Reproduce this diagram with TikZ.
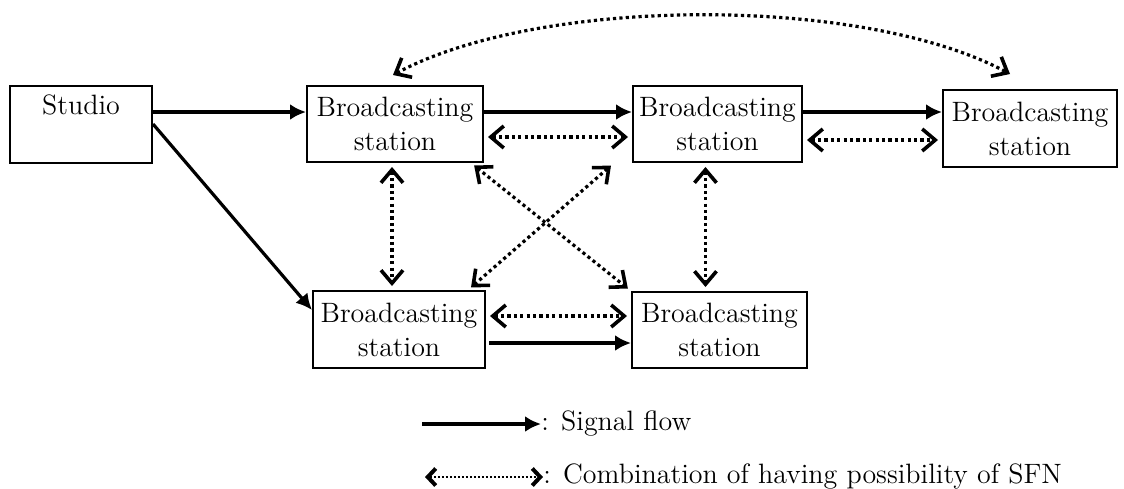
\documentclass[tikz,border=0pt]{standalone}
\usetikzlibrary{arrows.meta}
\begin{document}
\begin{tikzpicture}[x=0.5pt, y=-0.5pt, font=\fontsize{14}{17}\selectfont,
	box/.style={draw, line width=1pt, inner sep=0pt, align=center},
	flow/.style={line width=1.6pt, -{Latex[length=8pt,width=8pt]}},
	sfn/.style={line width=1.6pt, dash pattern=on 1.6pt off 1.6pt, {Straight Barb[length=6.5pt,width=11pt,line width=1.8pt]}-{Straight Barb[length=6.5pt,width=11pt,line width=1.8pt]}, shorten <=2pt, shorten >=2pt},
	sfnkey/.style={line width=1pt, dash pattern=on 1pt off 1pt, {Straight Barb[length=4pt,width=8.5pt,line width=2pt]}-{Straight Barb[length=4pt,width=8.5pt,line width=2pt]}}]
	\useasboundingbox (0,0) rectangle (1124,488);
	% studio and stations
	\node[box, minimum width=71pt, minimum height=38.5pt] (studio) at (81,124) {};
	\node[anchor=north, inner sep=0pt] (studiotxt) at ([yshift=-5pt]studio.north) {Studio};
	\foreach \n/\x/\y/\w/\h in {b1/395/124/88/38, b2/717.5/124/84.5/38, b3/1030/128.5/87/38.5, b4/399/329.5/86/38.5, b5/719.5/330/87.5/38}
		\node[box, minimum width=\w pt, minimum height=\h pt] (\n) at (\x,\y) {Broadcasting\\station};
	% signal flow
	\draw[flow] ([yshift=6pt]studio.east) -- ([yshift=6pt]b1.west);
	\draw[flow] (studio.east) -- ([yshift=9.75pt]b4.west);
	\draw[flow] ([yshift=6pt]b1.east) -- ([yshift=6pt]b2.west);
	\draw[flow] ([yshift=6pt]b2.east) -- ([yshift=6pt]b2.east -| b3.west);
	\draw[flow] ([shift={(1.5pt,-6.75pt)}]b4.east) -- ([yshift=-6.75pt]b4.east -| b5.west);
	% SFN pairs
	\draw[sfn] ([yshift=-6.5pt]b1.east) -- ([yshift=-6.5pt]b2.west);
	\draw[sfn] ([yshift=-8pt]b2.east) -- ([yshift=-8pt]b2.east -| b3.west);
	\draw[sfn] ([yshift=6.75pt]b4.east) -- ([yshift=6.75pt]b4.east -| b5.west);
	\draw[sfn] ([xshift=-1.5pt]b1.south) -- ([xshift=-1.5pt]b1.south |- b4.north);
	\draw[sfn] ([xshift=-6pt]b2.south) -- ([xshift=-6pt]b2.south |- b5.north);
	\draw[sfn] ([xshift=-6.5pt]b1.south east) -- (b5.north west);
	\draw[sfn] ([xshift=-9pt]b4.north east) -- ([xshift=-9pt]b2.south west);
	\draw[sfn, shorten <=0pt, shorten >=0pt] ([shift={(-1pt,5pt)}]b1.north) .. controls +(147,-79) and +(-147,-79) .. ([shift={(-10pt,7.5pt)}]b3.north);
	% legend
	\coordinate (sig0) at (422,424);
	\node[anchor=west, inner sep=0pt] (sigtxt) at (541,424) {: Signal flow};
	\draw[flow] (sig0) -- (sigtxt.west);
	\coordinate (sfn0) at (425,477);
	\node[anchor=west, inner sep=0pt] (sfntxt) at (543,477) {: Combination of having possibility of SFN};
	\draw[sfnkey] (sfn0) -- (sfntxt.west);
\end{tikzpicture}
\end{document}
